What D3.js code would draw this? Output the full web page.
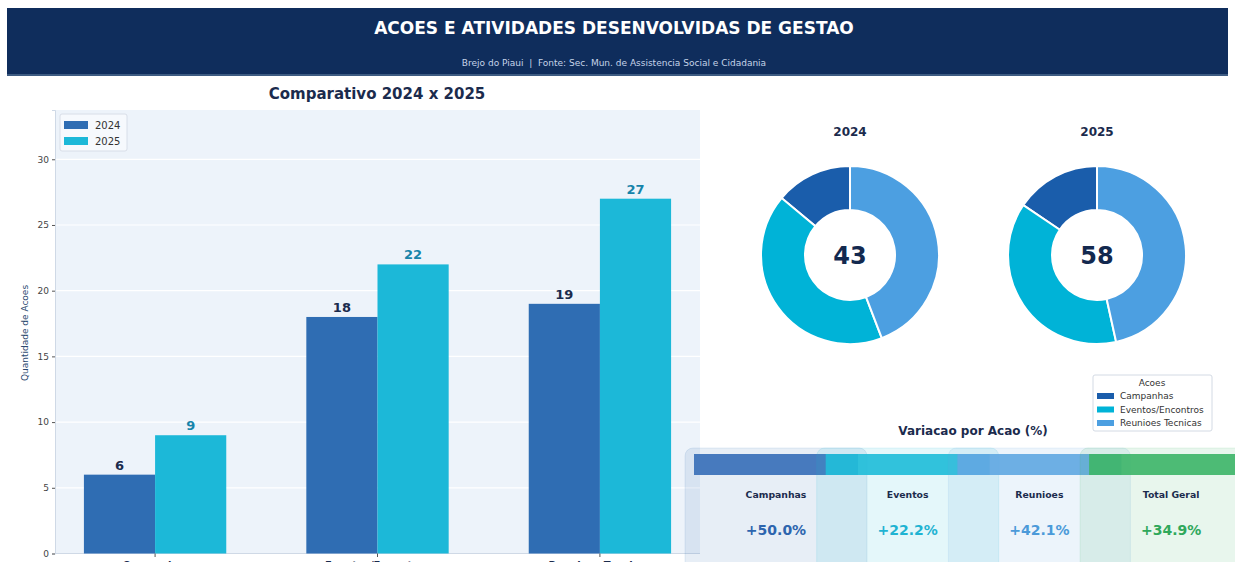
<!DOCTYPE html>
<html>
<head>
<meta charset="utf-8">
<script src="https://cdn.jsdelivr.net/npm/d3@7"></script>
<style>
html,body{margin:0;padding:0;background:#fff;}
svg{display:block;font-family:"DejaVu Sans",sans-serif;}
</style>
</head>
<body>
<svg id="chart" width="1235" height="562"></svg>
<script>
// ---------- data ----------
const categories = ["Campanhas", "Eventos/Encontros", "Reunioes Tecnicas"];
const years = ["2024", "2025"];
const values2024 = [6, 18, 19];
const values2025 = [9, 22, 27];
const yTicks = [0, 5, 10, 15, 20, 25, 30];
const totals = [43, 58];
const varLabels = ["Campanhas", "Eventos", "Reunioes", "Total Geral"];
const varValues = [50.0, 22.2, 42.1, 34.9];

// ---------- styles ----------
const navy = "#1b2b4d";
const barColors = ["#2f6db3", "#1cb8d8"];
const pieColors = ["#1a5dab", "#00b3d7", "#4c9fe1"];
const cardColors = ["#3a70b8", "#22bdd9", "#62a8e2", "#3fb56a"];
const cardText = ["#2d65ae", "#1fb3d2", "#4b9ad9", "#2fa85b"];

const svg = d3.select("#chart");

// ---------- header ----------
svg.append("rect").attr("x", 7).attr("y", 8).attr("width", 1221).attr("height", 68).attr("fill", "#0f2d5c");
svg.append("rect").attr("x", 7).attr("y", 74).attr("width", 1221).attr("height", 2).attr("fill", "#3d5b82");
svg.append("text").attr("x", 614).attr("y", 34).attr("text-anchor", "middle")
  .attr("font-size", 17).attr("font-weight", "bold").attr("fill", "#fff")
  .text("ACOES E ATIVIDADES DESENVOLVIDAS DE GESTAO");
svg.append("text").attr("x", 614).attr("y", 66).attr("text-anchor", "middle")
  .attr("font-size", 9).attr("fill", "#c5d3e8").style("white-space", "pre")
  .text("Brejo do Piaui  |  Fonte: Sec. Mun. de Assistencia Social e Cidadania");

// ---------- bar chart ----------
const x = d3.scaleLinear().domain([-0.45, 2.45]).range([55, 700]);
const y = d3.scaleLinear().domain([0, 33.75]).range([553.5, 110]);
const bw = 0.32;

svg.append("rect").attr("x", 55).attr("y", 110).attr("width", 645).attr("height", 443.5).attr("fill", "#edf3fa");

const gGrid = svg.append("g");
yTicks.forEach(t => {
  gGrid.append("line").attr("x1", 55).attr("x2", 700).attr("y1", y(t)).attr("y2", y(t))
    .attr("stroke", "#ffffff").attr("stroke-width", 1.2);
});

const yAxis = d3.axisLeft(y).tickValues(yTicks).tickSize(3).tickPadding(3);
const gy = svg.append("g").attr("transform", "translate(55,0)").call(yAxis);
gy.select(".domain").attr("stroke", "#cfd9e6");
gy.selectAll(".tick line").attr("stroke", "#555");
gy.selectAll(".tick text").attr("font-size", 9).attr("fill", "#444").attr("font-family", "DejaVu Sans");

svg.append("line").attr("x1", 55).attr("x2", 700).attr("y1", 553.5).attr("y2", 553.5).attr("stroke", "#cfd9e6");

svg.append("text").attr("transform", "translate(28,333) rotate(-90)").attr("text-anchor", "middle")
  .attr("font-size", 9).attr("fill", "#2c4a70").text("Quantidade de Acoes");

const series = [values2024, values2025];
series.forEach((vals, s) => {
  const off = s === 0 ? -bw : 0;
  svg.append("g").selectAll("rect").data(vals).join("rect")
    .attr("x", (d, i) => x(i + off))
    .attr("y", d => y(d))
    .attr("width", x(bw) - x(0))
    .attr("height", d => y(0) - y(d))
    .attr("fill", barColors[s]);
  svg.append("g").selectAll("text").data(vals).join("text")
    .attr("x", (d, i) => x(i + off + bw / 2))
    .attr("y", d => y(d) - 5)
    .attr("text-anchor", "middle").attr("font-size", 13).attr("font-weight", "bold")
    .attr("fill", s === 0 ? navy : "#1784aa")
    .text(d => d);
});

// x ticks + labels (cut by the bottom edge, as in the reference)
categories.forEach((c, i) => {
  svg.append("line").attr("x1", x(i)).attr("x2", x(i)).attr("y1", 553.5).attr("y2", 557).attr("stroke", "#555");
  svg.append("text").attr("x", x(i)).attr("y", 569).attr("text-anchor", "middle")
    .attr("font-size", 10).attr("font-weight", "bold").attr("fill", navy).text(c);
});

svg.append("text").attr("x", 377).attr("y", 99).attr("text-anchor", "middle")
  .attr("font-size", 15).attr("font-weight", "bold").attr("fill", navy).text("Comparativo 2024 x 2025");

// bar legend
svg.append("rect").attr("x", 60).attr("y", 114).attr("width", 67).attr("height", 37).attr("rx", 2)
  .attr("fill", "#f6f9fd").attr("stroke", "#d8dee8");
years.forEach((yr, i) => {
  svg.append("rect").attr("x", 64).attr("y", 121 + i * 16).attr("width", 24).attr("height", 8).attr("fill", barColors[i]);
  svg.append("text").attr("x", 95).attr("y", 129 + i * 16).attr("font-size", 10).attr("fill", "#333").text(yr);
});

// ---------- donuts ----------
const pie = d3.pie().sort(null).startAngle(0).endAngle(-2 * Math.PI);
const arc = d3.arc().innerRadius(45).outerRadius(89);
const pieCx = [850, 1097];
[values2024, values2025].forEach((vals, k) => {
  const g = svg.append("g").attr("transform", `translate(${pieCx[k]},255)`);
  g.selectAll("path").data(pie(vals)).join("path")
    .attr("d", arc).attr("fill", (d, i) => pieColors[i])
    .attr("stroke", "#fff").attr("stroke-width", 2);
  g.append("text").attr("y", 9).attr("text-anchor", "middle")
    .attr("font-size", 24).attr("font-weight", "bold").attr("fill", "#13294f").text(totals[k]);
  svg.append("text").attr("x", pieCx[k]).attr("y", 136).attr("text-anchor", "middle")
    .attr("font-size", 12).attr("font-weight", "bold").attr("fill", navy).text(years[k]);
});

// pie legend
svg.append("rect").attr("x", 1093).attr("y", 375).attr("width", 119).attr("height", 56).attr("rx", 2)
  .attr("fill", "#fff").attr("stroke", "#d3dae4");
svg.append("text").attr("x", 1152).attr("y", 386).attr("text-anchor", "middle")
  .attr("font-size", 9).attr("fill", "#333").text("Acoes");
categories.forEach((c, i) => {
  svg.append("rect").attr("x", 1097).attr("y", 393 + i * 13.5).attr("width", 17).attr("height", 6).attr("fill", pieColors[i]);
  svg.append("text").attr("x", 1120).attr("y", 399 + i * 13.5).attr("font-size", 9).attr("fill", "#333").text(c);
});

// ---------- variation cards ----------
svg.append("text").attr("x", 973).attr("y", 435).attr("text-anchor", "middle")
  .attr("font-size", 12).attr("font-weight", "bold").attr("fill", navy).text("Variacao por Acao (%)");

const cardX = d3.scaleLinear().domain([0, 1]).range([685, 816.7]);
varLabels.forEach((lab, i) => {
  const cx = cardX(i);
  svg.append("rect").attr("x", cx).attr("y", 448).attr("width", 182).attr("height", 130).attr("rx", 8)
    .attr("fill", cardColors[i]).attr("fill-opacity", 0.12)
    .attr("stroke", cardColors[i]).attr("stroke-opacity", 0.12);
  svg.append("rect").attr("x", cx + 9).attr("y", 454).attr("width", 164).attr("height", 21)
    .attr("fill", cardColors[i]).attr("opacity", 0.92);
});
varLabels.forEach((lab, i) => {
  const c = cardX(i) + 91;
  svg.append("text").attr("x", c).attr("y", 498).attr("text-anchor", "middle")
    .attr("font-size", 9.3).attr("font-weight", "bold").attr("fill", navy).text(lab);
  svg.append("text").attr("x", c).attr("y", 535).attr("text-anchor", "middle")
    .attr("font-size", 14).attr("font-weight", "bold").attr("fill", cardText[i])
    .text((varValues[i] >= 0 ? "+" : "") + varValues[i].toFixed(1) + "%");
});
</script>
</body>
</html>
